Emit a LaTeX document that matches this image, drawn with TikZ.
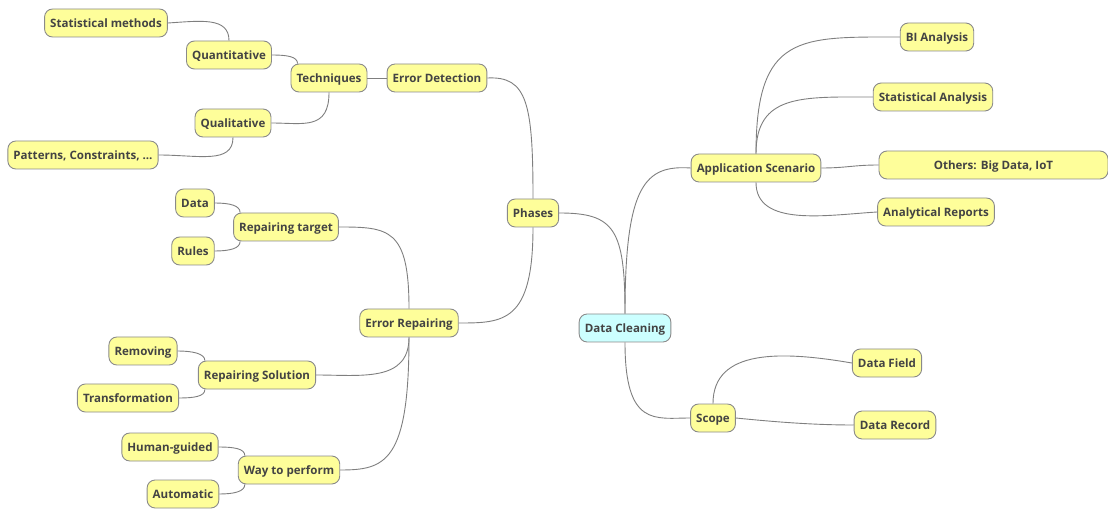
\documentclass[tikz,border=0pt]{standalone}
\usepackage{fontspec}
\setmainfont{Open Sans}
\begin{document}
\definecolor{boxfill}{HTML}{FEFE9A}
\definecolor{rootfill}{HTML}{CCFFFF}
\definecolor{boxline}{HTML}{8A8A8A}
\definecolor{edgeline}{HTML}{7F7F7F}
\definecolor{txt}{HTML}{434343}
\begin{tikzpicture}[x=1bp,y=-1bp,
  topic/.style={draw=boxline, fill=boxfill, rounded corners=8bp, line width=0.9bp,
    minimum height=28bp, inner xsep=5.6bp, inner ysep=2bp,
    text height=10bp, text depth=1.6bp, text=txt,
    font=\fontsize{11.6}{13}\selectfont\bfseries},
  rootnode/.style={topic, fill=rootfill},
  link/.style={draw=edgeline, line width=0.9bp}]
\useasboundingbox (0,0) rectangle (1108,509);

% root
\node[rootnode] (dc) at (625,328) {Data Cleaning};

% left branch: phases
\node[topic] (ph) at (533,213) {Phases};
\node[topic] (ed) at (437,78) {Error Detection};
\node[topic] (te) at (329,78) {Techniques};
\node[topic] (qn) at (229,55) {Quantitative};
\node[topic] (sm) at (106,23) {Statistical methods};
\node[topic] (ql) at (233,123) {Qualitative};
\node[topic] (pc) at (83,155) {Patterns, Constraints, ...};
\node[topic] (er) at (409,323) {Error Repairing};
\node[topic] (rt) at (286,227) {Repairing target};
\node[topic] (da) at (195,203) {Data};
\node[topic] (ru) at (193,251) {Rules};
\node[topic] (rs) at (257,375) {Repairing Solution};
\node[topic] (rm) at (143,351) {Removing};
\node[topic] (tr) at (128,398) {Transformation};
\node[topic] (wp) at (289,470) {Way to perform};
\node[topic] (hg) at (170,447) {Human-guided};
\node[topic] (au) at (183,494) {Automatic};

% right branch
\node[topic] (as) at (756,168) {Application Scenario};
\node[topic] (bi) at (937,37) {BI Analysis};
\node[topic] (sa) at (933,97) {Statistical Analysis};
\node[topic, minimum width=229bp] (ot) at (993.5,165) {Others: Big Data, IoT};
\node[topic] (ar) at (936,212) {Analytical Reports};
\node[topic] (sc) at (713,418) {Scope};
\node[topic] (df) at (887,363) {Data Field};
\node[topic] (dr) at (895,425) {Data Record};

% connectors
\begin{scope}[link]
\draw (dc.north) .. controls +(0,-85) and +(55,0) .. (ph.east);
\draw (ph.north) .. controls +(0,-95) and +(40,-2) .. (ed.east);
\draw (ph.south) .. controls +(0,95) and +(45,0) .. (er.east);
\draw (ed.west) -- (te.east);
\draw (te.south) .. controls +(0,38) and +(32,0) .. (ql.east);
\draw (qn.east) .. controls +(15,0) and +(0,-7) .. ([xshift=7bp]te.north west);
\draw (qn.north) .. controls +(0,-24) and +(32,-2) .. (sm.east);
\draw (ql.south) .. controls +(0,27) and +(40,0) .. (pc.east);
\draw (er.north) .. controls +(0,-80) and +(50,0) .. (rt.east);
\draw (er.south) .. controls +(0,45) and +(45,0) .. (rs.east);
\draw (er.south) .. controls +(0,125) and +(45,0) .. (wp.east);
\draw (da.east) .. controls +(15,0) and +(0,-7) .. ([xshift=7bp]rt.north west);
\draw (ru.east) .. controls +(15,0) and +(0,7) .. ([xshift=7bp]rt.south west);
\draw (rm.east) .. controls +(15,0) and +(0,-7) .. ([xshift=7bp]rs.north west);
\draw (tr.east) .. controls +(15,0) and +(0,7) .. ([xshift=7bp]rs.south west);
\draw (hg.east) .. controls +(15,0) and +(0,-7) .. ([xshift=7bp]wp.north west);
\draw (au.east) .. controls +(15,0) and +(0,7) .. ([xshift=7bp]wp.south west);
\draw (dc.north) .. controls +(0,-130) and +(-45,-3) .. (as.west);
\draw (dc.south) .. controls +(0,85) and +(-35,0) .. (sc.west);
\draw (as.north) .. controls +(0,-120) and +(-100,0) .. (bi.west);
\draw (as.north) .. controls +(0,-60) and +(-70,0) .. (sa.west);
\draw (as.east) .. controls +(25,0) and +(-25,0) .. (ot.west);
\draw (as.south) .. controls +(0,45) and +(-50,3) .. (ar.west);
\draw (sc.north) .. controls +(0,-55) and +(-70,-12) .. (df.west);
\draw (sc.east) .. controls +(40,4) and +(-40,0) .. (dr.west);
\end{scope}
\end{tikzpicture}
\end{document}
